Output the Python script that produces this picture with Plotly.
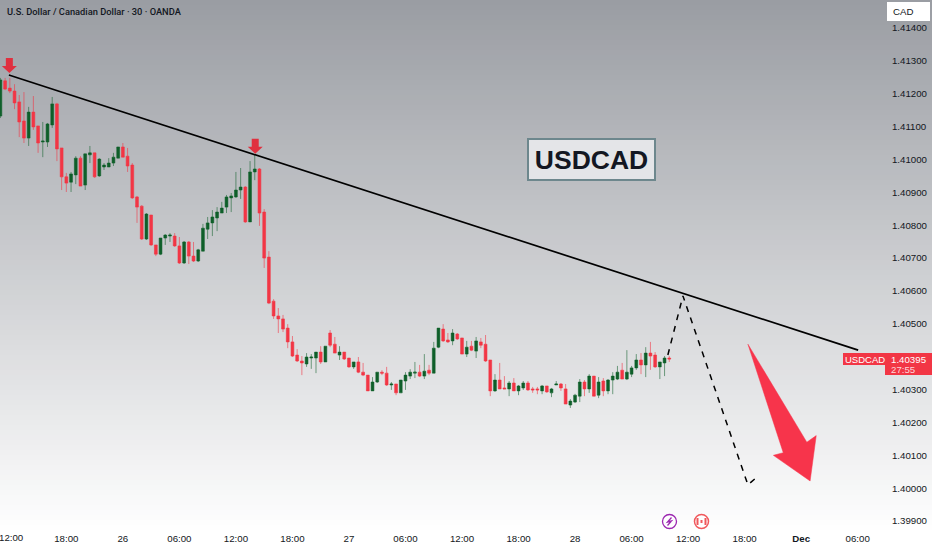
import plotly.graph_objects as go

opens = [1.41132,1.41239,1.41217,1.41208,1.41175,1.41117,1.41065,1.41144,1.41102,1.41053,1.41053,1.41105,1.41169,1.41035,1.40947,1.40931,1.40953,1.41004,1.40922,1.41014,1.41020,1.40950,1.40977,1.40977,1.40989,1.41004,1.41038,1.41010,1.40983,1.40886,
1.40858,1.40758,1.40831,1.40740,1.40712,1.40761,1.40767,1.40767,1.40737,1.40685,1.40749,1.40706,1.40691,1.40721,1.40788,1.40807,1.40822,1.40837,1.40855,1.40883,
1.40886,1.40907,1.40916,1.40810,1.40962,1.40971,1.40840,1.40703,1.40569,1.40524,1.40515,1.40487,1.40445,1.40405,1.40387,1.40378,1.40396,1.40396,1.40414,1.40384,
1.40472,1.40438,1.40405,1.40414,1.40396,1.40369,1.40384,1.40353,1.40344,1.40296,1.40323,1.40353,1.40350,1.40314,1.40317,1.40290,1.40326,1.40341,1.40350,1.40353,
1.40341,1.40359,1.40350,1.40429,1.40484,1.40451,1.40448,1.40469,1.40457,1.40408,1.40432,1.40417,1.40445,1.40438,1.40390,1.40296,1.40329,1.40305,1.40302,1.40320,
1.40296,1.40305,1.40320,1.40302,1.40302,1.40296,1.40311,1.40290,1.40314,1.40317,1.40302,1.40253,1.40262,1.40280,1.40323,1.40302,1.40341,1.40283,1.40326,1.40296,
1.40329,1.40332,1.40359,1.40332,1.40347,1.40366,1.40390,1.40375,1.40411,1.40405,1.40369,1.40381,1.40396]
highs = [1.41248,1.41248,1.41248,1.41229,1.41196,1.41205,1.41160,1.41193,1.41102,1.41114,1.41111,1.41190,1.41172,1.41035,1.40959,1.40962,1.41010,1.41010,1.41017,1.41041,1.41020,1.41004,1.40989,1.41004,1.41020,1.41038,1.41050,1.41035,1.40989,1.40889,
1.40861,1.40837,1.40831,1.40740,1.40761,1.40773,1.40776,1.40776,1.40764,1.40752,1.40752,1.40749,1.40728,1.40804,1.40825,1.40846,1.40855,1.40871,1.40892,1.40898,
1.40962,1.40974,1.40919,1.40995,1.41014,1.40974,1.40849,1.40721,1.40575,1.40548,1.40527,1.40499,1.40463,1.40423,1.40402,1.40411,1.40408,1.40414,1.40432,1.40432,
1.40481,1.40460,1.40432,1.40414,1.40396,1.40384,1.40399,1.40381,1.40344,1.40338,1.40353,1.40359,1.40369,1.40323,1.40317,1.40329,1.40353,1.40362,1.40384,1.40375,
1.40408,1.40375,1.40445,1.40487,1.40499,1.40472,1.40484,1.40472,1.40457,1.40448,1.40448,1.40460,1.40457,1.40466,1.40390,1.40347,1.40381,1.40341,1.40326,1.40335,
1.40314,1.40326,1.40326,1.40308,1.40308,1.40314,1.40311,1.40305,1.40326,1.40320,1.40317,1.40271,1.40287,1.40332,1.40329,1.40347,1.40341,1.40338,1.40335,1.40332,
1.40353,1.40372,1.40381,1.40420,1.40372,1.40408,1.40411,1.40429,1.40445,1.40414,1.40384,1.40402,1.40402]
lows = [1.41126,1.41211,1.41202,1.41153,1.41068,1.41050,1.41041,1.41090,1.41020,1.41007,1.41038,1.41096,1.40995,1.40907,1.40901,1.40901,1.40925,1.40919,1.40907,1.40989,1.40944,1.40947,1.40968,1.40977,1.40980,1.41004,1.41007,1.40962,1.40880,1.40807,
1.40755,1.40755,1.40737,1.40706,1.40709,1.40740,1.40749,1.40734,1.40682,1.40682,1.40682,1.40688,1.40688,1.40721,1.40758,1.40767,1.40782,1.40837,1.40837,1.40840,
1.40883,1.40880,1.40807,1.40810,1.40937,1.40798,1.40670,1.40560,1.40515,1.40472,1.40475,1.40426,1.40399,1.40384,1.40344,1.40369,1.40363,1.40350,1.40378,1.40384,
1.40429,1.40411,1.40390,1.40390,1.40366,1.40363,1.40350,1.40341,1.40296,1.40296,1.40320,1.40344,1.40311,1.40299,1.40283,1.40290,1.40299,1.40332,1.40335,1.40338,
1.40332,1.40344,1.40350,1.40426,1.40445,1.40442,1.40435,1.40451,1.40408,1.40399,1.40417,1.40396,1.40426,1.40384,1.40280,1.40293,1.40302,1.40302,1.40280,1.40296,
1.40283,1.40299,1.40296,1.40290,1.40286,1.40286,1.40290,1.40277,1.40314,1.40296,1.40256,1.40244,1.40259,1.40262,1.40280,1.40290,1.40280,1.40274,1.40280,1.40286,
1.40286,1.40329,1.40332,1.40329,1.40338,1.40360,1.40347,1.40338,1.40360,1.40366,1.40332,1.40341,1.40384]
closes = [1.41242,1.41214,1.41208,1.41172,1.41114,1.41065,1.41144,1.41099,1.41050,1.41056,1.41108,1.41169,1.41032,1.40947,1.40928,1.40956,1.41004,1.40919,1.41017,1.41020,1.40947,1.41001,1.40983,1.40989,1.41007,1.41038,1.41007,1.40980,1.40883,1.40855,
1.40758,1.40834,1.40740,1.40712,1.40761,1.40770,1.40770,1.40737,1.40685,1.40749,1.40706,1.40691,1.40725,1.40791,1.40807,1.40825,1.40840,1.40852,1.40886,1.40889,
1.40907,1.40916,1.40810,1.40962,1.40971,1.40837,1.40700,1.40563,1.40524,1.40515,1.40484,1.40445,1.40402,1.40387,1.40381,1.40399,1.40399,1.40414,1.40384,1.40432,
1.40435,1.40411,1.40414,1.40393,1.40369,1.40384,1.40353,1.40344,1.40296,1.40323,1.40353,1.40350,1.40314,1.40317,1.40290,1.40329,1.40344,1.40353,1.40353,1.40341,
1.40356,1.40350,1.40426,1.40487,1.40448,1.40445,1.40472,1.40454,1.40408,1.40429,1.40420,1.40448,1.40435,1.40387,1.40296,1.40329,1.40302,1.40302,1.40320,1.40296,
1.40311,1.40320,1.40299,1.40299,1.40299,1.40311,1.40293,1.40302,1.40317,1.40305,1.40256,1.40265,1.40283,1.40323,1.40302,1.40341,1.40280,1.40323,1.40296,1.40329,
1.40341,1.40353,1.40332,1.40353,1.40366,1.40390,1.40375,1.40411,1.40402,1.40369,1.40384,1.40396,1.40393]
bars = list(range(len(closes)))

tick_bars = [14,26,38,50,62,74,86,98,110,122,134,146,158,170,182]
tick_text = ["18:00","26","06:00","12:00","18:00","27","06:00","12:00","18:00","28","06:00","12:00","18:00","<b>Dec</b>","06:00"]
first_tick_text = "12:00"
price_ticks = [1.399,1.400,1.401,1.402,1.403,1.405,1.406,1.407,1.408,1.409,1.410,1.411,1.412,1.413,1.414]

trend_x = [1.8, 182.1]
trend_y = [1.41257, 1.40420]
dash_x = [141.7, 144.9, 158.7, 160.6]
dash_y = [1.40405, 1.40585, 1.40010, 1.40034]
big_arrow_x = [158.7, 166.2, 164.1, 171.9, 173.2, 171.2, 158.7]
big_arrow_y = [1.40438, 1.40108, 1.40100, 1.40022, 1.40160, 1.40140, 1.40438]

FW, FH, ML, MR, MT, MB = 932, 550, 0, 47, 0, 23
PW, PH = FW - ML - MR, FH - MT - MB
RED, GREEN, INK = "#f23645", "#0f5f2a", "#131722"
AXFONT = dict(family="Liberation Sans", size=9.7, color=INK)

def px(x): return x / PW
def py(y): return 1 - y / PH

shapes = []
STEP = 5
for y in range(0, FH, STEP):
    t = min(1.0, y / 530)
    c = [round(a + (255 - a) * t) for a in (154, 157, 163)]
    shapes.append(dict(type="rect", layer="below", xref="paper", yref="paper",
                       x0=px(0), x1=px(FW), y0=py(y), y1=py(y + STEP + 1),
                       fillcolor=f"rgb({c[0]},{c[1]},{c[2]})", line_width=0))

def box(x0, y0, x1, y1, fill, line=None, lw=0):
    shapes.append(dict(type="rect", layer="above", xref="paper", yref="paper",
                       x0=px(x0), x1=px(x1), y0=py(y0), y1=py(y1),
                       fillcolor=fill, line=dict(color=line or fill, width=lw)))

def circle(cx, cy, r, fill, line, lw):
    shapes.append(dict(type="circle", layer="above", xref="paper", yref="paper",
                       x0=px(cx - r), x1=px(cx + r), y0=py(cy - r), y1=py(cy + r),
                       fillcolor=fill, line=dict(color=line, width=lw)))

def pixel_path(bar, price, path, fill):
    shapes.append(dict(type="path", layer="above", xref="x", yref="y",
                       xsizemode="pixel", ysizemode="pixel", xanchor=bar, yanchor=price,
                       path=path, fillcolor=fill, line=dict(color=fill, width=0)))

ARROW = "M -7.5 7 L -3.5 7 L -3.5 15 L 3.5 15 L 3.5 7 L 7.5 7 L 0 0 Z"
pixel_path(1.9, 1.41263, ARROW, "#e0303f")
pixel_path(54.1, 1.41017, ARROW, "#e0303f")

box(843, 353, 886, 365, RED)
box(885, 353, 932, 375, RED)
box(887, 2, 930, 21, "#ffffff")

circle(669.5, 521.5, 7, "rgba(255,255,255,0.6)", "#9c27b0", 1.3)
circle(701.5, 521.5, 7, "rgba(255,255,255,0.6)", "#f0585c", 1.5)
box(696.5, 518, 698.5, 525, "#f0585c")
box(704.5, 518, 706.5, 525, "#f0585c")
box(700.5, 520, 702.5, 523, "#f0585c")
shapes.append(dict(type="path", layer="above", xref="paper", yref="paper",
                   path=f"M {px(671.5)} {py(517.5)} L {px(667.5)} {py(522)} L {px(671.5)} {py(521)} L {px(667.5)} {py(525.5)}",
                   line=dict(color="#9c27b0", width=1.3)))

def label(x, y, text, font, xanchor="center", **kw):
    return dict(xref="paper", yref="paper", x=px(x), y=py(y), text=text, showarrow=False,
                xanchor=xanchor, yanchor="middle", font=font, **kw)

annotations = [
    label(4.5, 11, "U.S. Dollar / Canadian Dollar · 30 · OANDA",
          dict(family="Roboto", size=9.3, color=INK, weight=500), "left"),
    label(591, 159.5, "USDCAD", dict(family="Liberation Sans", size=26.5, color=INK, weight=700),
          width=125, height=39, bgcolor="#e4e5e8", bordercolor="#6d878d", borderwidth=2, borderpad=0),
    label(864.5, 359, "USDCAD", dict(family="Liberation Sans", size=9.5, color="#ffffff")),
    label(908.5, 359, "1.40395", dict(family="Liberation Sans", size=9.7, color="#ffffff")),
    label(903, 369, "27:55", dict(family="Liberation Sans", size=9.7, color="#ffd5d8")),
    label(902.5, 11.5, "CAD", dict(family="Liberation Sans", size=9.7, color=INK)),
    label(11, 538, first_tick_text, AXFONT),
]

fig = go.Figure()
fig.add_trace(go.Candlestick(
    x=bars, open=opens, high=highs, low=lows, close=closes,
    increasing=dict(line=dict(color="rgba(15,95,42,0.7)", width=0.8), fillcolor=GREEN),
    decreasing=dict(line=dict(color="rgba(242,54,69,0.75)", width=0.8), fillcolor=RED),
    whiskerwidth=0, showlegend=False, hoverinfo="skip"))
fig.add_trace(go.Scatter(x=trend_x, y=trend_y, mode="lines",
                         line=dict(color="#000000", width=1.7), showlegend=False, hoverinfo="skip"))
fig.add_trace(go.Scatter(x=dash_x, y=dash_y, mode="lines",
                         line=dict(color="#000000", width=1.5, dash="6px,6px"), showlegend=False, hoverinfo="skip"))
fig.add_trace(go.Scatter(x=big_arrow_x, y=big_arrow_y, mode="lines", fill="toself",
                         fillcolor="#f7344b", line=dict(color="#f7344b", width=0.5), showlegend=False, hoverinfo="skip"))

fig.update_layout(
    width=FW, height=FH, autosize=False,
    margin=dict(l=ML, r=MR, t=MT, b=MB, pad=0),
    paper_bgcolor="#ffffff", plot_bgcolor="rgba(0,0,0,0)",
    shapes=shapes, annotations=annotations, showlegend=False,
    boxmode="overlay", boxgap=0.15,
    xaxis=dict(range=[-0.085, 187.8], tickmode="array", tickvals=tick_bars, ticktext=tick_text,
               showgrid=False, zeroline=False, showline=False, ticks="outside", ticklen=2,
               tickcolor="rgba(0,0,0,0)", tickangle=0, tickfont=AXFONT, rangeslider=dict(visible=False)),
    yaxis=dict(side="right", range=[1.39882, 1.41485], tickmode="array", tickvals=price_ticks,
               tickformat=".5f", showgrid=False, zeroline=False, showline=False, ticks="outside", ticklen=4,
               tickcolor="rgba(0,0,0,0)", tickfont=AXFONT),
)
fig.write_html("out.html", config=dict(displayModeBar=False),
               post_script="document.body.style.margin='0';document.body.style.overflow='hidden';document.documentElement.style.overflow='hidden';")
